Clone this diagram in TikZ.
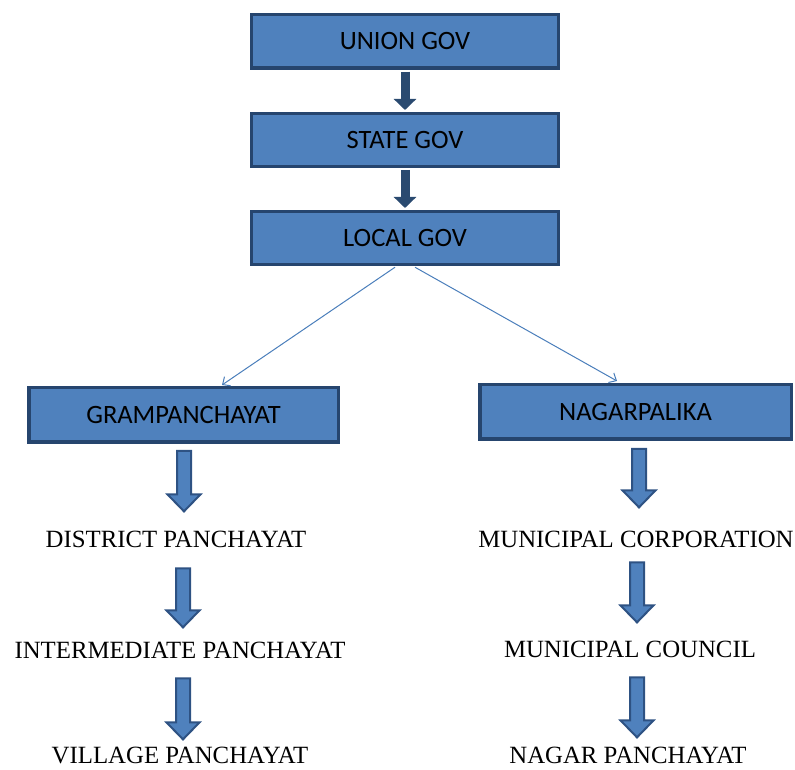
\documentclass[tikz,border=0pt]{standalone}
\usepackage{fontspec}
\setmainfont{Liberation Serif}
\newfontfamily\boxfont{Carlito}
\usetikzlibrary{arrows.meta,calc}
\definecolor{boxfill}{HTML}{4F81BD}
\definecolor{boxedge}{HTML}{26456E}
\definecolor{arrowedge}{HTML}{2E5283}
\definecolor{topshaft}{HTML}{2A4A70}
\definecolor{thinline}{HTML}{4A7EBB}
\tikzset{
  govbox/.style={draw=boxedge, fill=boxfill, line width=3.5pt, inner sep=0pt,
    font=\boxfont\fontsize{26.5}{26.5}\selectfont, text=black},
  label/.style={inner sep=0pt, anchor=base, font=\fontsize{24.8}{24.8}\selectfont, text=black},
  toparrow/.style={draw=topshaft, line width=9pt, -{Triangle[width=22pt,length=11pt]}},
  thinarrow/.style={draw=thinline, line width=1pt, -{Straight Barb[length=6pt,width=11pt]}},
  blockarrow/.style={draw=arrowedge, fill=boxfill, line width=2pt, line join=miter,
    to path={let \p1=(\tikztostart), \p2=(\tikztotarget) in
      (\x1-7pt,\y1) -- (\x1+7pt,\y1) -- (\x1+7pt,\y2+17pt) -- (\x1+16.5pt,\y2+17pt)
      -- (\x1,\y2) -- (\x1-16.5pt,\y2+17pt) -- (\x1-7pt,\y2+17pt) -- cycle}}
}
\begin{document}
\begin{tikzpicture}[x=1pt,y=1pt]
\useasboundingbox (0,0) rectangle (795,769);
% top boxes
\node[govbox, minimum width=307pt, minimum height=53.5pt] (union) at (405,727.5) {UNION GOV};
\node[govbox, minimum width=307pt, minimum height=53pt] (state) at (405,629) {STATE GOV};
\node[govbox, minimum width=307pt, minimum height=53pt] (local) at (405,531) {LOCAL GOV};
\node[govbox, minimum width=309.5pt, minimum height=54.5pt] (gram) at (183.5,354) {GRAMPANCHAYAT};
\node[govbox, minimum width=311.5pt, minimum height=54.5pt] (nagar) at (635.5,357) {NAGARPALIKA};
% labels
\node[label] (district) at (176,222) {DISTRICT PANCHAYAT};
\node[label] (inter) at (180,111) {INTERMEDIATE PANCHAYAT};
\node[label] (village) at (180,6) {VILLAGE PANCHAYAT};
\node[label] (mcorp) at (636,222) {MUNICIPAL CORPORATION};
\node[label] (mcouncil) at (630,112) {MUNICIPAL COUNCIL};
\node[label] (npanch) at (628,6) {NAGAR PANCHAYAT};
% top arrows
\draw[toparrow] ([yshift=-1.75pt]union.south) -- ([yshift=1.75pt]state.north);
\draw[toparrow] ([yshift=-1.75pt]state.south) -- ([yshift=1.75pt]local.north);
% thin arrows
\draw[thinarrow] ([xshift=-10pt,yshift=-1pt]local.south) -- ([xshift=38.5pt,yshift=1pt]gram.north);
\draw[thinarrow] ([xshift=10pt,yshift=-1pt]local.south) -- ([xshift=-18.5pt,yshift=2pt]nagar.north);
% block arrows left
\draw[blockarrow] ([xshift=0.5pt,yshift=-7pt]gram.south) to ([yshift=19pt]district.north);
\draw[blockarrow] ([xshift=7pt,yshift=-21pt]district.south) to ([yshift=14pt]inter.north);
\draw[blockarrow] ([xshift=3pt,yshift=-20pt]inter.south) to ([yshift=7pt]village.north);
% block arrows right
\draw[blockarrow] ([xshift=3.5pt,yshift=-8pt]nagar.south) to ([yshift=23pt]mcorp.north);
\draw[blockarrow] ([xshift=1pt,yshift=-15pt]mcorp.south) to ([yshift=18pt]mcouncil.north);
\draw[blockarrow] ([xshift=7pt,yshift=-20pt]mcouncil.south) to ([yshift=9pt]npanch.north);
\end{tikzpicture}
\end{document}
